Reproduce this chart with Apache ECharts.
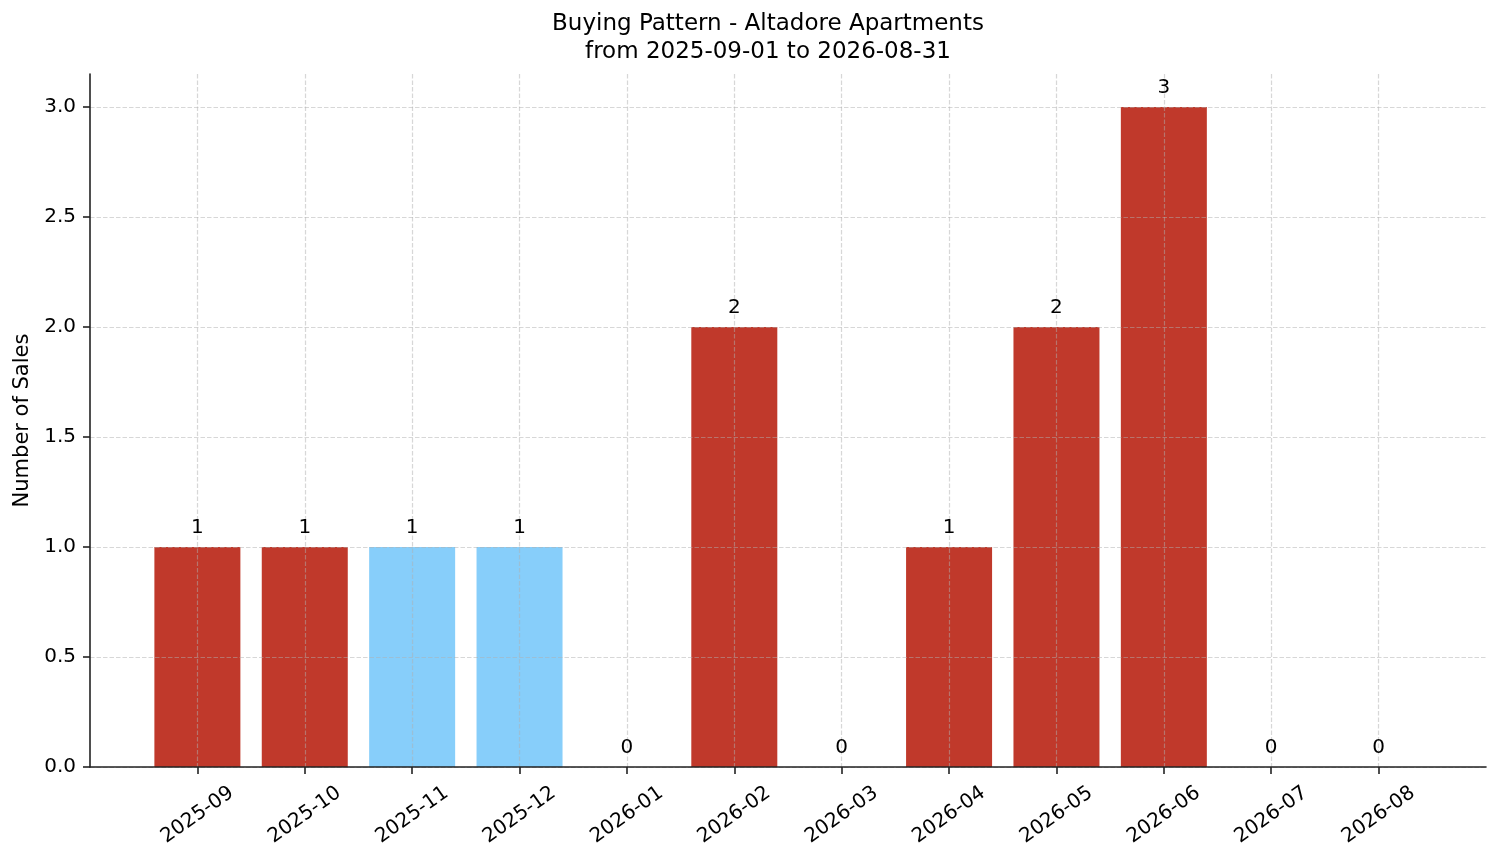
<!DOCTYPE html>
<html>
<head>
<meta charset="utf-8">
<script src="https://cdn.jsdelivr.net/npm/echarts@6/dist/echarts.min.js"></script>
<style>
  html, body { margin: 0; padding: 0; background: #fff; }
  #chart { width: 1501px; height: 863px; }
</style>
</head>
<body>
<div id="chart"></div>
<script>
// data
var months = ['2025-09', '2025-10', '2025-11', '2025-12', '2026-01', '2026-02',
              '2026-03', '2026-04', '2026-05', '2026-06', '2026-07', '2026-08'];
var sales = [1, 1, 1, 1, 0, 2, 0, 1, 2, 3, 0, 0];
var blueMonths = ['2025-11', '2025-12']; // bars drawn light blue
var yTicks = [0, 0.5, 1.0, 1.5, 2.0, 2.5, 3.0];

var RED = '#c0392b';
var BLUE = '#87cefa';
var FONT = 'DejaVu Sans';

// pad one empty slot each side so the axis runs past the first/last bar like matplotlib
var axisCats = [''].concat(months, ['']);
var barData = ['-'];
var labelData = ['-'];
for (var i = 0; i < months.length; i++) {
    barData.push({
        value: sales[i],
        itemStyle: { color: blueMonths.indexOf(months[i]) >= 0 ? BLUE : RED }
    });
    labelData.push(sales[i]);
}
barData.push('-');
labelData.push('-');

function inner(idx) {
    return idx > 0 && idx < axisCats.length - 1;
}

var gridLine = { show: true, lineStyle: { color: 'rgba(176,176,176,0.5)', width: 1.2, type: [4.5, 2] } };

var myChart = echarts.init(document.getElementById('chart'));
var option = {
    animation: false,
    backgroundColor: '#fff',
    title: {
        text: 'Buying Pattern - Altadore Apartments\nfrom 2025-09-01 to 2026-08-31',
        left: 768,
        top: 10,
        padding: 0,
        textAlign: 'center',
        textStyle: { fontFamily: FONT, fontSize: 23, fontWeight: 'normal', color: '#000', lineHeight: 28 }
    },
    grid: { left: 90, right: 15, top: 74, bottom: 96, containLabel: false },
    xAxis: {
        type: 'category',
        data: axisCats,
        boundaryGap: false,
        z: 3,
        axisLine: { lineStyle: { color: '#222', width: 1.6 } },
        axisTick: { interval: inner, length: 7, lineStyle: { color: '#222', width: 1.6 } },
        axisLabel: {
            interval: inner,
            rotate: 35,
            align: 'center',
            verticalAlign: 'middle',
            margin: 48,
            fontFamily: FONT,
            fontSize: 20,
            color: '#000'
        },
        splitLine: Object.assign({ interval: inner }, gridLine)
    },
    yAxis: {
        type: 'value',
        min: 0,
        max: 3.15,
        z: 3,
        name: 'Number of Sales',
        nameLocation: 'middle',
        nameGap: 55,
        nameTextStyle: { fontFamily: FONT, fontSize: 21, color: '#000' },
        axisLine: { show: true, lineStyle: { color: '#222', width: 1.6 } },
        axisTick: { show: true, customValues: yTicks, length: 7, lineStyle: { color: '#222', width: 1.6 } },
        axisLabel: {
            customValues: yTicks,
            margin: 14,
            fontFamily: FONT,
            fontSize: 20,
            color: '#000',
            formatter: function (v) { return v.toFixed(1); }
        },
        splitLine: gridLine
    },
    series: [{
        type: 'bar',
        data: barData,
        barWidth: 86,
        z: 2
    }, {
        // transparent copy that only carries the value labels above the grid lines
        type: 'bar',
        data: labelData,
        barWidth: 86,
        barGap: '-100%',
        z: 5,
        itemStyle: { color: 'rgba(0,0,0,0)' },
        label: {
            show: true,
            position: 'top',
            distance: 9,
            fontFamily: FONT,
            fontSize: 20,
            color: '#000'
        }
    }]
};
myChart.setOption(option);
</script>
</body>
</html>
